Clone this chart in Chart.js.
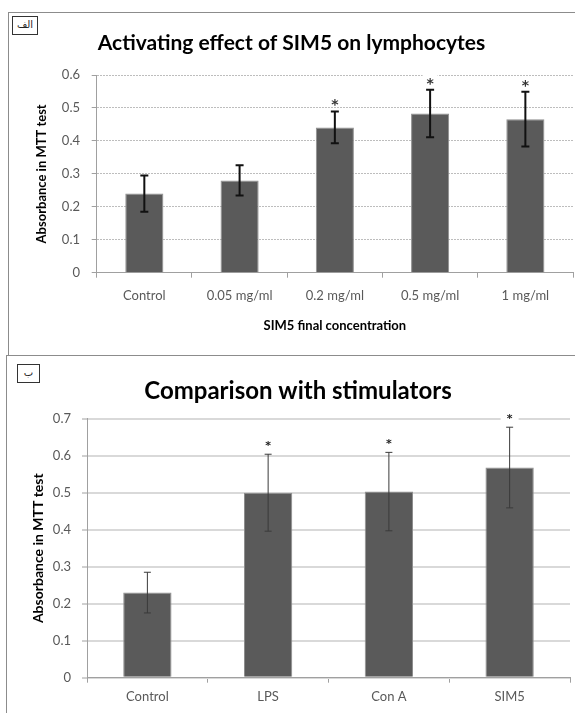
<!DOCTYPE html>
<html>
<head>
<meta charset="utf-8">
<script src="https://cdn.jsdelivr.net/npm/chart.js@4.4.0/dist/chart.umd.min.js"></script>
<style>
  body { margin: 0; background: #fff; width: 575px; height: 713px; overflow: hidden; position: relative; font-family: Lato, sans-serif; }
  .frame { position: absolute; border: 1px solid #8c8c8c; }
  #frameTop { left: 8px; top: 12px; width: 600px; height: 342px; }
  #frameBottom { left: 6px; top: 355px; width: 600px; height: 400px; }
  .tag { position: absolute; border: 1px solid #333; background: #fff; font-family: "DejaVu Sans", sans-serif; font-size: 10px; line-height: 16px; text-align: center; color: #222; }
  #tagTop { left: 12px; top: 16px; width: 24px; height: 17px; }
  #tagBottom { left: 17px; top: 364px; width: 21px; height: 17px; }
  canvas { position: absolute; left: 0; }
  #chartTop { top: 0; }
  #chartBottom { top: 355px; }
</style>
</head>
<body>
<div class="frame" id="frameTop"></div>
<div class="frame" id="frameBottom"></div>
<canvas id="chartTop" width="575" height="355"></canvas>
<canvas id="chartBottom" width="575" height="358"></canvas>
<div class="tag" id="tagTop">الف</div>
<div class="tag" id="tagBottom">ب</div>
<script>
// top panel - SIM5 dose response
const topCategories = ['Control', '0.05 mg/ml', '0.2 mg/ml', '0.5 mg/ml', '1 mg/ml'];
const topMeans = [0.24, 0.28, 0.441, 0.483, 0.466];
const topErrors = [0.055, 0.046, 0.048, 0.072, 0.083];
const topSignificant = [false, false, true, true, true];
const topYTicks = [0, 0.1, 0.2, 0.3, 0.4, 0.5, 0.6];

// bottom panel - comparison with stimulators
const bottomCategories = ['Control', 'LPS', 'Con A', 'SIM5'];
const bottomMeans = [0.23, 0.5, 0.503, 0.568];
const bottomErrors = [0.055, 0.104, 0.106, 0.109];
const bottomSignificant = [false, true, true, true];
const bottomYTicks = [0, 0.1, 0.2, 0.3, 0.4, 0.5, 0.6, 0.7];

const TEXT_GREY = '#595959';
const AXIS_GREY = '#a0a0a0';

// draws error bars + significance stars on top of the bars
const errorBarsPlugin = {
    id: 'errorBars',
    afterDatasetsDraw(chart, args, opts) {
        const ctx = chart.ctx;
        const yScale = chart.scales.y;
        const meta = chart.getDatasetMeta(0);
        meta.data.forEach((bar, i) => {
            const mean = opts.means[i];
            const err = opts.errors[i];
            const yTop = yScale.getPixelForValue(mean + err);
            const yBottom = yScale.getPixelForValue(mean - err);
            const x = bar.x;

            ctx.save();
            ctx.strokeStyle = opts.color;
            ctx.lineWidth = opts.lineWidth;
            ctx.beginPath();
            ctx.moveTo(x, yTop);
            ctx.lineTo(x, yBottom);
            ctx.moveTo(x - opts.capWidth / 2, yTop);
            ctx.lineTo(x + opts.capWidth / 2, yTop);
            ctx.moveTo(x - opts.capWidth / 2, yBottom);
            ctx.lineTo(x + opts.capWidth / 2, yBottom);
            ctx.stroke();

            if (opts.stars[i]) {
                const starY = yTop - opts.starGap;
                ctx.fillStyle = '#fff';
                ctx.fillRect(x - opts.starBox / 2, starY - 5, opts.starBox, 10);
                ctx.fillStyle = opts.starColor;
                ctx.font = opts.starFont;
                ctx.textAlign = 'center';
                ctx.textBaseline = 'alphabetic';
                ctx.fillText('*', x, starY + opts.starBaseline);
            }
            ctx.restore();
        });
    }
};

function makeChart(canvasId, setup) {
    const ctx = document.getElementById(canvasId).getContext('2d');
    return new Chart(ctx, {
        type: 'bar',
        data: {
            labels: setup.categories,
            datasets: [{
                data: setup.means,
                backgroundColor: '#5a5a5a',
                borderColor: '#8f8f8f',
                borderWidth: 1,
                barPercentage: 0.4,
                categoryPercentage: 1.0
            }]
        },
        options: {
            responsive: false,
            animation: false,
            events: [],
            layout: { padding: { left: setup.padLeft, right: setup.padRight, top: 0, bottom: 0 } },
            plugins: {
                legend: { display: false },
                tooltip: { enabled: false },
                title: {
                    display: true,
                    text: setup.title,
                    color: '#000',
                    font: { family: 'Lato', size: setup.titleSize, weight: 'bold', lineHeight: 1.2 },
                    padding: setup.titlePadding
                },
                errorBars: {
                    means: setup.means,
                    errors: setup.errors,
                    stars: setup.stars,
                    ...setup.errorStyle
                }
            },
            scales: {
                x: {
                    grid: { display: true, drawOnChartArea: false, drawTicks: true, tickLength: 5, color: AXIS_GREY },
                    border: { color: AXIS_GREY },
                    ticks: { color: TEXT_GREY, padding: setup.xTickPad, font: { family: 'Lato', size: 13 } },
                    title: setup.xTitle,
                    afterFit: s => { s.height = setup.xHeight; }
                },
                y: {
                    min: 0,
                    max: setup.yMax,
                    afterBuildTicks: s => { s.ticks = setup.yTicks.map(v => ({ value: v })); },
                    grid: { color: setup.gridColor, lineWidth: setup.gridWidth, tickLength: 5, tickColor: AXIS_GREY, tickWidth: 1 },
                    border: { color: AXIS_GREY, dash: setup.gridDash },
                    ticks: {
                        color: TEXT_GREY,
                        padding: setup.yTickPad,
                        font: { family: 'Lato', size: 13 },
                        callback: v => String(Math.round(v * 10) / 10)
                    },
                    title: {
                        display: true,
                        text: 'Absorbance in MTT test',
                        color: '#000',
                        font: { family: 'Lato', size: setup.yTitleSize, weight: 'bold', lineHeight: 1.2 },
                        padding: { top: setup.yTitleOffset, bottom: 0 }
                    },
                    afterFit: s => { s.width = setup.yWidth; }
                }
            }
        },
        plugins: [errorBarsPlugin]
    });
}

makeChart('chartTop', {
    categories: topCategories,
    means: topMeans,
    errors: topErrors,
    stars: topSignificant,
    yTicks: topYTicks,
    yMax: 0.6,
    title: 'Activating effect of SIM5 on lymphocytes',
    titleSize: 21,
    titlePadding: { top: 30.4, bottom: 19.4 },
    padLeft: 10,
    padRight: 2,
    xHeight: 82.3,
    xTickPad: 10.5,
    xTitle: {
        display: true,
        text: 'SIM5 final concentration',
        color: '#000',
        font: { family: 'Lato', size: 13, weight: 'bold', lineHeight: 1.2 },
        padding: { top: 0, bottom: 21.2 }
    },
    yWidth: 86.7,
    yTickPad: 11.7,
    yTitleSize: 13,
    yTitleOffset: 24.2,
    gridColor: '#bdbdbd',
    gridWidth: 1,
    gridDash: [2, 1],
    errorStyle: {
        color: '#111', lineWidth: 2, capWidth: 8,
        starColor: '#333', starFont: 'bold 14px "DejaVu Sans"', starGap: 10, starBaseline: 7.8, starBox: 15
    }
});

makeChart('chartBottom', {
    categories: bottomCategories,
    means: bottomMeans,
    errors: bottomErrors,
    stars: bottomSignificant,
    yTicks: bottomYTicks,
    yMax: 0.7,
    title: 'Comparison with stimulators',
    titleSize: 24,
    titlePadding: { top: 21.6, bottom: 13.3 },
    padLeft: 26,
    padRight: 5,
    xHeight: 35.3,
    xTickPad: 6.5,
    xTitle: { display: false },
    yWidth: 61,
    yTickPad: 11,
    yTitleSize: 14,
    yTitleOffset: 3.6,
    gridColor: '#d9d9d9',
    gridWidth: 2,
    gridDash: [],
    errorStyle: {
        color: '#3a3a3a', lineWidth: 1, capWidth: 7,
        starColor: '#222', starFont: 'bold 11px "DejaVu Sans"', starGap: 11.5, starBaseline: 6.2, starBox: 18
    }
});
</script>
</body>
</html>
